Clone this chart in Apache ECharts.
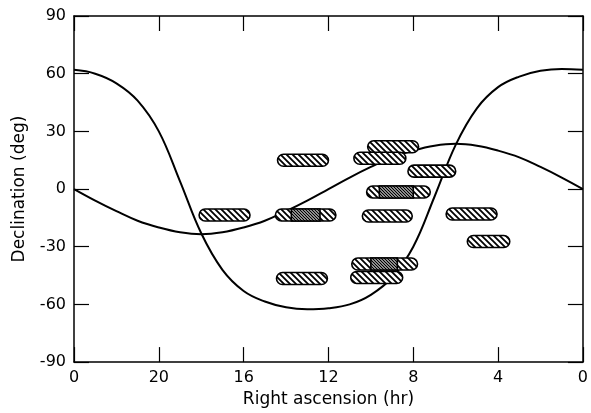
<!DOCTYPE html>
<html>
<head>
<meta charset="utf-8">
<script src="https://cdn.jsdelivr.net/npm/echarts@6/dist/echarts.min.js"></script>
<style>
  html, body { margin: 0; padding: 0; background: #fff; }
  #chart { width: 591px; height: 413px; }
</style>
</head>
<body>
<div id="chart"></div>
<script>
// right ascension (hr) sample points for the two curves
var raHours = [0, 1, 2, 3, 4, 5, 6, 7, 8, 9, 10, 11, 12, 13, 14, 15, 16, 17, 18, 19, 20, 21, 22, 23, 24];
// ecliptic
var eclipticDec = [0, 6, 11.5, 16.5, 20, 22.5, 23.5, 22.5, 20, 16.5, 11.5, 6, 0, -6, -11.5, -16.5, -20, -22.5, -23.5, -22.5, -20, -16.5, -11.5, -6, 0];
// galactic plane
var galacticDec = [62, 62.5, 61.5, 58.5, 53, 42, 23, -4, -30, -46, -55, -60, -62, -62.5, -61.5, -58.5, -53, -42, -23, 4, 30, 46, 55, 60, 62];

// error boxes: RA extent (hr) and declination (deg)
var boxRaHigh = [18.1, 14.4, 14.5, 14.45, 10.15, 10.8, 8.25, 10.2, 10.4, 6.45, 5.45, 10.9, 10.95];
var boxRaLow  = [15.7, 12.0, 11.65, 12.05, 7.75, 8.35, 6.0, 7.2, 8.05, 4.05, 3.45, 7.8, 8.5];
var boxDec    = [-13.5, 15, -13.5, -46.5, 22, 16, 9.3, -1.5, -14, -13, -27.3, -39, -46];
// darker inner regions
var coreRaHigh = [13.75, 9.6, 10.0];
var coreRaLow  = [12.4, 8.0, 8.75];
var coreDec    = [-13.5, -1.5, -39];

function hatch(size, width, color) {
  var c = document.createElement('canvas');
  c.width = size; c.height = size;
  var g = c.getContext('2d');
  g.fillStyle = '#fff';
  g.fillRect(0, 0, size, size);
  g.strokeStyle = color;
  g.lineWidth = width;
  g.beginPath();
  g.moveTo(-1, -1); g.lineTo(size + 1, size + 1);
  g.moveTo(-2, size - 2); g.lineTo(2, size + 2);
  g.moveTo(size - 2, -2); g.lineTo(size + 2, 2);
  g.stroke();
  return c;
}
var wideHatch = hatch(6, 1.8, '#000');
var fineHatch = hatch(3, 1.3, '#000');

var boxes = boxDec.map(function (d, i) { return [boxRaHigh[i], boxRaLow[i], d]; });
var cores = coreDec.map(function (d, i) { return [coreRaHigh[i], coreRaLow[i], d]; });

function boxItem(pattern, rounded) {
  return function (params, api) {
    var p1 = api.coord([api.value(0), api.value(2)]);
    var p2 = api.coord([api.value(1), api.value(2)]);
    var h = 12;
    var x = Math.min(p1[0], p2[0]);
    var w = Math.abs(p2[0] - p1[0]);
    return {
      type: 'rect',
      shape: { x: x, y: p1[1] - h / 2, width: w, height: h, r: rounded ? h / 2 : 0 },
      style: {
        fill: { image: pattern, repeat: 'repeat' },
        stroke: '#000',
        lineWidth: 1.6
      }
    };
  };
}

var axisLineStyle = { show: true, onZero: false, lineStyle: { color: '#000', width: 1.5 } };
var tickStyle = { inside: true, length: 15, lineStyle: { color: '#000', width: 1.2 } };

var chart = echarts.init(document.getElementById('chart'));
var font = 'DejaVu Sans';
var option = {
  animation: false,
  grid: { left: 74, right: 7, top: 16, bottom: 47 },
  xAxis: [{
    type: 'value', min: 0, max: 24, interval: 4, inverse: true,
    name: 'Right ascension (hr)', nameLocation: 'middle', nameGap: 25,
    nameTextStyle: { fontFamily: font, fontSize: 17, color: '#000' },
    axisLine: axisLineStyle,
    axisTick: tickStyle,
    axisLabel: {
      margin: 8, fontFamily: font, fontSize: 16, color: '#000',
      formatter: function (v) { return v === 24 ? '0' : String(v); }
    },
    splitLine: { show: false }
  }, {
    type: 'value', min: 0, max: 24, interval: 4, inverse: true, position: 'top',
    axisLine: axisLineStyle,
    axisTick: tickStyle,
    axisLabel: { show: false },
    splitLine: { show: false }
  }],
  yAxis: [{
    type: 'value', min: -90, max: 90, interval: 30,
    name: 'Declination (deg)', nameLocation: 'middle', nameGap: 46,
    nameTextStyle: { fontFamily: font, fontSize: 17, color: '#000' },
    axisLine: axisLineStyle,
    axisTick: tickStyle,
    axisLabel: { margin: 8, fontFamily: font, fontSize: 16, color: '#000' },
    splitLine: { show: false }
  }, {
    type: 'value', min: -90, max: 90, interval: 30, position: 'right',
    axisLine: axisLineStyle,
    axisTick: tickStyle,
    axisLabel: { show: false },
    splitLine: { show: false }
  }],
  series: [{
    type: 'line', name: 'Ecliptic', smooth: 0.4, symbol: 'none',
    data: raHours.map(function (r, i) { return [r, eclipticDec[i]]; }),
    lineStyle: { color: '#000', width: 2 }, z: 2
  }, {
    type: 'line', name: 'Galactic plane', smooth: 0.4, symbol: 'none',
    data: raHours.map(function (r, i) { return [r, galacticDec[i]]; }),
    lineStyle: { color: '#000', width: 2 }, z: 2
  }, {
    type: 'custom', name: 'Boxes', renderItem: boxItem(wideHatch, true),
    data: boxes, encode: { x: [0, 1], y: 2 }, clip: true, z: 3
  }, {
    type: 'custom', name: 'Cores', renderItem: boxItem(fineHatch, false),
    data: cores, encode: { x: [0, 1], y: 2 }, clip: true, z: 4
  }]
};
option && chart.setOption(option);
</script>
</body>
</html>
